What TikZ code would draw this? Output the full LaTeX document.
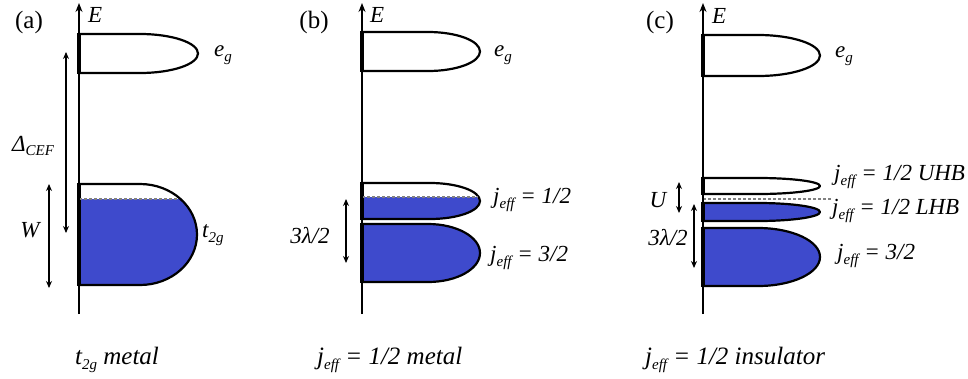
\documentclass[tikz,border=0pt]{standalone}
\usepackage{fontspec}
\setmainfont{Liberation Serif}
\usetikzlibrary{arrows.meta}
\definecolor{bandblue}{RGB}{62,74,204}
\newcommand\lsub[1]{\raisebox{-0.45ex}{\fontsize{15}{15}\selectfont #1}}
\newcommand\jeff{j\lsub{eff}}
% band: x0, top, bottom, xright, rx, fill-from
\newcommand\band[6]{%
  \ifx&#6&\else
  \begin{scope}
    \clip (#1-5,#6) rectangle (#4+5,#3+5);
    \fill[bandblue] (#1,#2) -- ({#4-#5},#2) .. controls ({#4-0.448*#5},#2) and (#4,{(#2+#3)/2-0.276*(#3-#2)}) .. (#4,{(#2+#3)/2})
      .. controls (#4,{(#2+#3)/2+0.276*(#3-#2)}) and ({#4-0.448*#5},#3) .. ({#4-#5},#3) -- (#1,#3) -- cycle;
  \end{scope}\fi
  \draw[bandline] (#1,#2) -- ({#4-#5},#2) .. controls ({#4-0.448*#5},#2) and (#4,{(#2+#3)/2-0.276*(#3-#2)}) .. (#4,{(#2+#3)/2})
      .. controls (#4,{(#2+#3)/2+0.276*(#3-#2)}) and ({#4-0.448*#5},#3) .. ({#4-#5},#3) -- (#1,#3);
  \draw[line width=3.2pt] (#1,#2-1) -- (#1,#3+1);
}
\begin{document}
\begin{tikzpicture}[x=1pt,y=-1pt,
  bandline/.style={line width=2.2pt, line join=round},
  axis/.style={line width=1.3pt, -{Stealth[length=9pt,width=7pt]}},
  dbl/.style={line width=1.1pt, {Stealth[length=7pt,width=6pt]}-{Stealth[length=7pt,width=6pt]}},
  fermi/.style={gray, line width=1.2pt, dash pattern=on 3pt off 2pt},
  lbl/.style={font=\fontsize{23}{23}\selectfont\itshape, inner sep=0pt},
  pan/.style={font=\fontsize{25}{25}\selectfont, inner sep=0pt},
  bot/.style={font=\fontsize{25}{25}\selectfont\itshape, inner sep=0pt, anchor=base west}]
\useasboundingbox (0,0) rectangle (968,378);

% ---------- (a)
\coordinate (aaxb) at (79,314); \coordinate (aaxt) at (79,3);
\band{79}{34}{73}{198}{58}{}
\band{79}{184}{285}{197}{57}{199}
\coordinate (af1) at (79,199); \coordinate (af2) at (177,199);
\draw[fermi] (af1) -- (af2);
\draw[axis] (aaxb) -- (aaxt);
\node[pan] (pa) at (29,22) {(a)};
\node[lbl,anchor=west] (Ea) at (88,15) {E};
\node[lbl,anchor=west] (ega) at (214,55) {e\lsub{g}};
\node[lbl,anchor=west] (t2g) at (202,235) {t\lsub{2g}};
\coordinate (cef1) at (66,52); \coordinate (cef2) at (66,233);
\draw[dbl] (cef1) -- (cef2);
\node[lbl] (cef) at (33,146) {Δ\lsub{CEF}};
\coordinate (w1) at (49,184); \coordinate (w2) at (49,288);
\draw[dbl] (w1) -- (w2);
\node[lbl] (W) at (30,230) {W};

% ---------- (b)
\coordinate (baxb) at (362,314); \coordinate (baxt) at (362,3);
\band{362}{32}{71}{480}{52}{}
\band{362}{183}{219}{480}{50}{197}
\band{362}{224}{282}{480}{52}{224}
\coordinate (bf1) at (362,197); \coordinate (bf2) at (478,197);
\draw[fermi] (bf1) -- (bf2);
\draw[axis] (baxb) -- (baxt);
\node[pan] (pb) at (314,22) {(b)};
\node[lbl,anchor=west] (Eb) at (370,15) {E};
\node[lbl,anchor=west] (egb) at (494,55) {e\lsub{g}};
\node[lbl,anchor=west] (jb1) at (493,200) {\jeff{} = 1/2};
\node[lbl,anchor=west] (jb3) at (490,258) {\jeff{} = 3/2};
\coordinate (lb1) at (346,199); \coordinate (lb2) at (346,263);
\draw[dbl] (lb1) -- (lb2);
\node[lbl] (lamb) at (310,236) {3λ/2};

% ---------- (c)
\coordinate (caxb) at (703,314); \coordinate (caxt) at (703,3);
\band{703}{35}{76}{820}{62}{}
\band{703}{178}{194}{820}{62}{}
\band{703}{203}{221}{820}{62}{203}
\band{703}{228}{286}{820}{62}{228}
\coordinate (cf1) at (703,199); \coordinate (cf2) at (831,199);
\draw[fermi] (cf1) -- (cf2);
\draw[axis] (caxb) -- (caxt);
\node[pan] (pc) at (660,22) {(c)};
\node[lbl,anchor=west] (Ec) at (712,16) {E};
\node[lbl,anchor=west] (egc) at (835,56) {e\lsub{g}};
\node[lbl,anchor=west] (jcu) at (834,177) {\jeff{} = 1/2 UHB};
\node[lbl,anchor=west] (jcl) at (832,211) {\jeff{} = 1/2 LHB};
\node[lbl,anchor=west] (jc3) at (837,256) {\jeff{} = 3/2};
\coordinate (u1) at (679,182); \coordinate (u2) at (679,213);
\draw[dbl] (u1) -- (u2);
\node[lbl] (U) at (658,200) {U};
\coordinate (lc1) at (694,204); \coordinate (lc2) at (694,268);
\draw[dbl] (lc1) -- (lc2);
\node[lbl] (lamc) at (668,238) {3λ/2};

% ---------- bottom captions
\node[bot] (capa) at (75,364) {t\lsub{2g} metal};
\node[bot] (capb) at (317,364) {\jeff{} = 1/2 metal};
\node[bot] (capc) at (645,364) {\jeff{} = 1/2 insulator};
\end{tikzpicture}
\end{document}
